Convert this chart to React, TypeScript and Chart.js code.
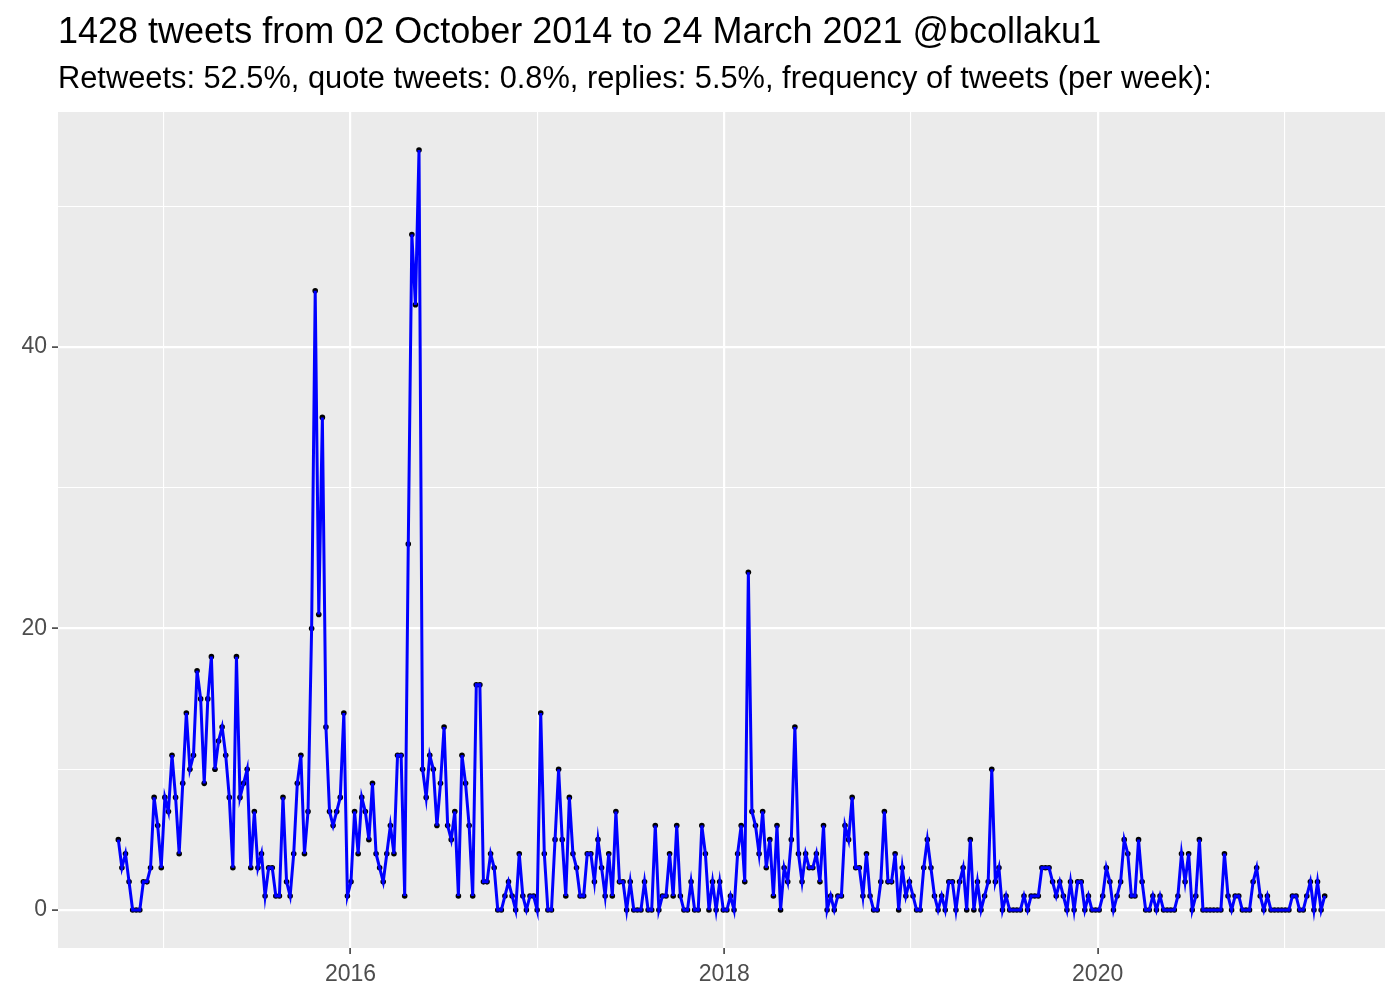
import React, { useEffect, useRef } from 'react';
import { Chart, registerables } from 'chart.js';

Chart.register(...registerables);

const TITLE = '1428 tweets from 02 October 2014 to 24 March 2021 @bcollaku1';
const SUBTITLE = 'Retweets: 52.5%, quote tweets: 0.8%, replies: 5.5%, frequency of tweets (per week):';

// first weekly bin (UTC) and weekly tweet counts
const FIRST_WEEK = [2014, 9, 4];
const weeklyTweets = [
  5, 3, 4, 2, 0, 0, 0, 2, 2, 3,
  8, 6, 3, 8, 7, 11, 8, 4, 9, 14,
  10, 11, 17, 15, 9, 15, 18, 10, 12, 13,
  11, 8, 3, 18, 8, 9, 10, 3, 7, 3,
  4, 1, 3, 3, 1, 1, 8, 2, 1, 4,
  9, 11, 4, 7, 20, 44, 21, 35, 13, 7,
  6, 7, 8, 14, 1, 2, 7, 4, 8, 7,
  5, 9, 4, 3, 2, 4, 6, 4, 11, 11,
  1, 26, 48, 43, 54, 10, 8, 11, 10, 6,
  9, 13, 6, 5, 7, 1, 11, 9, 6, 1,
  16, 16, 2, 2, 4, 3, 0, 0, 1, 2,
  1, 0, 4, 1, 0, 1, 1, 0, 14, 4,
  0, 0, 5, 10, 5, 1, 8, 4, 3, 1,
  1, 4, 4, 2, 5, 3, 1, 4, 1, 7,
  2, 2, 0, 2, 0, 0, 0, 2, 0, 0,
  6, 0, 1, 1, 4, 1, 6, 1, 0, 0,
  2, 0, 0, 6, 4, 0, 2, 0, 2, 0,
  0, 1, 0, 4, 6, 2, 24, 7, 6, 4,
  7, 3, 5, 1, 6, 0, 3, 2, 5, 13,
  4, 2, 4, 3, 3, 4, 2, 6, 0, 1,
  0, 1, 1, 6, 5, 8, 3, 3, 1, 4,
  1, 0, 0, 2, 7, 2, 2, 4, 0, 3,
  1, 2, 1, 0, 0, 3, 5, 3, 1, 0,
  1, 0, 2, 2, 0, 2, 3, 0, 5, 0,
  2, 0, 1, 2, 10, 2, 3, 0, 1, 0,
  0, 0, 0, 1, 0, 1, 1, 1, 3, 3,
  3, 2, 1, 2, 1, 0, 2, 0, 2, 2,
  0, 1, 0, 0, 0, 1, 3, 2, 0, 1,
  2, 5, 4, 1, 1, 5, 2, 0, 0, 1,
  0, 1, 0, 0, 0, 0, 1, 4, 2, 4,
  0, 1, 5, 0, 0, 0, 0, 0, 0, 4,
  1, 0, 1, 1, 0, 0, 0, 2, 3, 1,
  0, 1, 0, 0, 0, 0, 0, 0, 1, 1,
  0, 0, 1, 2, 0, 2, 0, 1,
];

const yearTicks = [2015, 2016, 2017, 2018, 2019, 2020, 2021];
const yearLabels = ['', '2016', '', '2018', '', '2020', ''];
const yTicks = [0, 10, 20, 30, 40, 50];
const yLabels = ['0', '', '20', '', '40', ''];

const WEEK_MS = 7 * 24 * 3600 * 1000;
const FONT = '"Liberation Sans", Arial, Helvetica, sans-serif';

export default function App() {
  const canvasRef = useRef<HTMLCanvasElement | null>(null);

  useEffect(() => {
    document.body.style.margin = '0';
    const canvas = canvasRef.current;
    if (!canvas) return;

    const start = Date.UTC(FIRST_WEEK[0], FIRST_WEEK[1], FIRST_WEEK[2]);
    const points = weeklyTweets.map((v, i) => ({ x: start + i * WEEK_MS, y: v }));
    const xFirst = points[0].x;
    const xLast = points[points.length - 1].x;
    const xPad = (xLast - xFirst) * 0.05;
    const yMax = Math.max(...weeklyTweets);
    const yPad = yMax * 0.05;

    const bgPlugin = {
      id: 'ggBackground',
      beforeDraw(chart: any) {
        const { ctx, chartArea } = chart;
        ctx.save();
        ctx.fillStyle = '#FFFFFF';
        ctx.fillRect(0, 0, chart.width, chart.height);
        ctx.fillStyle = '#EBEBEB';
        ctx.fillRect(chartArea.left, chartArea.top, chartArea.right - chartArea.left, chartArea.bottom - chartArea.top);
        ctx.restore();
      },
      afterDraw(chart: any) {
        const { ctx, chartArea } = chart;
        ctx.save();
        ctx.fillStyle = '#000000';
        ctx.textAlign = 'left';
        ctx.textBaseline = 'alphabetic';
        ctx.font = `36px ${FONT}`;
        ctx.fillText(TITLE, chartArea.left, 43);
        ctx.font = `30.8px ${FONT}`;
        ctx.fillText(SUBTITLE, chartArea.left, 88);
        ctx.restore();
      },
    };

    const chart = new Chart(canvas, {
      type: 'line',
      data: {
        datasets: [
          {
            label: 'line',
            data: points,
            borderColor: '#0000FF',
            borderWidth: 3,
            pointRadius: 0,
            tension: 0,
            order: 0,
          },
          {
            label: 'points',
            data: points,
            showLine: false,
            pointRadius: 2.8,
            pointBackgroundColor: '#000000',
            pointBorderColor: '#000000',
            pointBorderWidth: 0,
            order: 1,
          },
        ],
      },
      plugins: [bgPlugin],
      options: {
        animation: false,
        responsive: false,
        maintainAspectRatio: false,
        layout: { padding: { top: 112, right: 15, left: 0, bottom: 0 } },
        plugins: {
          legend: { display: false },
          tooltip: { enabled: false },
          title: { display: false },
        },
        scales: {
          x: {
            type: 'linear',
            min: xFirst - xPad,
            max: xLast + xPad,
            afterBuildTicks: (axis: any) => {
              axis.ticks = yearTicks.map((y) => ({ value: Date.UTC(y, 0, 1) }));
            },
            afterFit: (axis: any) => {
              axis.height = 52;
            },
            border: { display: false },
            grid: {
              color: '#FFFFFF',
              lineWidth: (c: any) => (c.index % 2 === 1 ? 2.2 : 1.1),
              drawTicks: true,
              tickLength: 6,
              tickWidth: 1.5,
              tickColor: (c: any) => (c.index % 2 === 1 ? '#333333' : 'rgba(0,0,0,0)'),
            },
            ticks: {
              autoSkip: false,
              maxRotation: 0,
              padding: 7,
              color: '#4D4D4D',
              font: { family: FONT, size: 23 },
              callback: (_v: any, i: number) => yearLabels[i],
            },
          },
          y: {
            type: 'linear',
            min: -yPad,
            max: yMax + yPad,
            afterBuildTicks: (axis: any) => {
              axis.ticks = yTicks.map((v) => ({ value: v }));
            },
            afterFit: (axis: any) => {
              axis.width = 58;
            },
            border: { display: false },
            grid: {
              color: '#FFFFFF',
              lineWidth: (c: any) => (c.index % 2 === 0 ? 2.2 : 1.1),
              drawTicks: true,
              tickLength: 6,
              tickWidth: 1.5,
              tickColor: (c: any) => (c.index % 2 === 0 ? '#333333' : 'rgba(0,0,0,0)'),
            },
            ticks: {
              autoSkip: false,
              padding: 5,
              color: '#4D4D4D',
              font: { family: FONT, size: 23 },
              callback: (_v: any, i: number) => yLabels[i],
            },
          },
        },
      },
    });

    return () => {
      chart.destroy();
    };
  }, []);

  return (
    <div style={{ width: 1400, height: 1000 }}>
      <canvas ref={canvasRef} width={1400} height={1000} style={{ display: 'block' }} />
    </div>
  );
}
